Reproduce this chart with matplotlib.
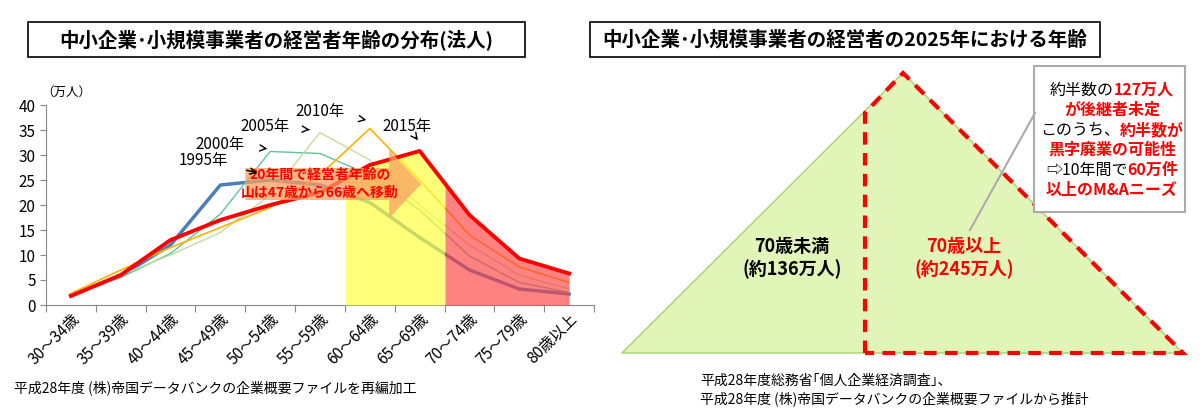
import matplotlib
matplotlib.use("Agg")
import matplotlib.pyplot as plt
from matplotlib.patches import Rectangle, Polygon, FancyArrow
import numpy as np

plt.rcParams["font.family"] = "Noto Sans CJK JP"

categories = ["30～34歳", "35～39歳", "40～44歳", "45～49歳", "50～54歳", "55～59歳",
              "60～64歳", "65～69歳", "70～74歳", "75～79歳", "80歳以上"]
v1995 = [2.0, 5.8, 12.0, 24.0, 25.0, 24.0, 20.5, 13.5, 7.0, 3.2, 2.2]
v2000 = [2.2, 5.5, 10.3, 18.2, 30.7, 30.3, 26.0, 19.0, 9.8, 4.5, 2.5]
v2005 = [2.3, 6.0, 10.0, 14.5, 22.0, 34.5, 29.0, 20.0, 12.0, 6.0, 3.2]
v2010 = [2.3, 7.0, 11.5, 15.5, 19.5, 26.0, 35.3, 25.0, 14.0, 7.6, 4.5]
v2015 = [1.8, 6.0, 13.0, 17.0, 20.0, 22.5, 28.0, 30.8, 18.0, 9.3, 6.3]
yticks = [0, 5, 10, 15, 20, 25, 30, 35, 40]

W, H = 1200, 415
fig = plt.figure(figsize=(12, 4.15), dpi=100)

ov = fig.add_axes([0, 0, 1, 1])
ov.set_xlim(0, W); ov.set_ylim(H, 0); ov.axis("off")

ax = fig.add_axes([46/W, (H-305)/H, 548/W, 200/H])
x = np.arange(len(categories))
ax.plot(x, v1995, color="#4a7ebb", lw=2.5, zorder=2)
ax.plot(x, v2000, color="#5fc49a", lw=1.0, zorder=2)
ax.plot(x, v2005, color="#c4dca0", lw=1.0, zorder=2)
ax.plot(x, v2010, color="#ffb000", lw=1.2, zorder=2)
xf = np.linspace(5.5, 10, 400)
yf = np.interp(xf, x, v2015)
m1 = xf <= 7.5
ax.fill_between(xf[m1], 0, yf[m1], color="#ffff40", alpha=0.7, zorder=3, lw=0)
m2 = xf >= 7.5
ax.fill_between(xf[m2], 0, yf[m2], color="#ff4040", alpha=0.65, zorder=3, lw=0)
ax.plot(x, v2015, color="#ff0000", lw=2.8, zorder=5)

ax.set_xlim(-0.5, 10.5)
ax.set_ylim(0, 40)
ax.set_yticks(yticks)
ax.set_xticks(np.arange(-0.5, 11, 1), minor=False)
ax.set_xticklabels([])
ax.set_xticks(x, minor=True)
ax.set_xticklabels(categories, minor=True, rotation=45, ha="right", rotation_mode="anchor", fontsize=11)
ax.tick_params(axis="x", which="minor", length=0, pad=4)
ax.tick_params(axis="x", which="major", length=5, color="#888")
ax.tick_params(axis="y", labelsize=11, length=4, color="#888")
for s in ["top", "right"]:
    ax.spines[s].set_visible(False)
ax.spines["left"].set_color("#888"); ax.spines["bottom"].set_color("#888")
ax.text(-0.6, 42.5, "（万人）", fontsize=9, ha="left", va="center", clip_on=False)

arr = FancyArrow(3.5, 24.2, 3.53, 0, width=6.4, head_width=13.6, head_length=0.64,
                 length_includes_head=True, color="#f8a060", alpha=0.75, lw=0, zorder=6)
ax.add_patch(arr)
ax.text(5.0, 24.2, "20年間で経営者年齢の\n山は47歳から66歳へ移動", color="#ff0000", fontsize=10,
        fontweight="bold", ha="center", va="center", zorder=7, linespacing=1.4)

for lab, tx, ty, px, py in [("1995年", 2.65, 29.0, 3.8, 26.3), ("2000年", 3.0, 32.2, 4.0, 31.2),
                            ("2005年", 3.9, 35.8, 4.85, 35.0), ("2010年", 5.0, 38.7, 5.93, 37.0),
                            ("2015年", 6.75, 35.8, 7.0, 32.5)]:
    ax.annotate(lab, xy=(px, py), xytext=(tx, ty), fontsize=11, ha="center", va="center",
                arrowprops=dict(arrowstyle="->", color="black", lw=1, shrinkA=12), zorder=8)

ov.add_patch(Rectangle((28, 22), 497, 35, fill=False, ec="black", lw=1.2))
ov.text(276, 40, "中小企業･小規模事業者の経営者年齢の分布(法人)", fontsize=14, fontweight="bold",
        ha="center", va="center")
ov.add_patch(Rectangle((590, 22), 510, 35, fill=False, ec="black", lw=1.2))
ov.text(845, 40, "中小企業･小規模事業者の経営者の2025年における年齢", fontsize=14, fontweight="bold",
        ha="center", va="center")

ov.add_patch(Polygon([(622, 353), (903, 73), (1183, 353)], closed=True, fc="#e2f5b8", ec="#a8d070", lw=1))
ov.add_patch(Polygon([(865, 353), (865, 113), (903, 73), (1183, 353)], closed=True, fill=False,
                     ec="#ff0000", lw=3, ls=(0, (3, 2))))
ov.text(792, 258, "70歳未満\n(約136万人)", fontsize=13, fontweight="bold", ha="center", va="center",
        linespacing=1.2)
ov.text(964, 258, "70歳以上\n(約245万人)", fontsize=13, fontweight="bold", ha="center", va="center",
        color="#ff0000", linespacing=1.2)
ov.plot([1035, 970], [113, 230], color="#aaaaaa", lw=1.5)
ov.add_patch(Rectangle((1034, 66), 151, 146, fc="white", ec="#aaaaaa", lw=1.5))
lines = [[("約半数の", "black"), ("127万人", "#ff0000")],
         [("が後継者未定", "#ff0000")],
         [("このうち、", "black"), ("約半数が", "#ff0000")],
         [("黒字廃業の可能性", "#ff0000")],
         [("⇨10年間で", "black"), ("60万件", "#ff0000")],
         [("以上のM&Aニーズ", "#ff0000")]]
fig.canvas.draw()
r = fig.canvas.get_renderer()
for i, ln in enumerate(lines):
    yy = 90 + i * 20
    texts = []
    for s, c in ln:
        t = ov.text(0, yy, s, fontsize=11.5, color=c, va="center", ha="left",
                    fontweight="bold" if c != "black" else "normal")
        texts.append(t)
    widths = [t.get_window_extent(r).width for t in texts]
    xs = 1112 - sum(widths) / 2
    for t, w in zip(texts, widths):
        t.set_x(xs); xs += w

ov.text(14, 388, "平成28年度 (株)帝国データバンクの企業概要ファイルを再編加工", fontsize=10, va="center")
ov.text(700, 381, "平成28年度総務省｢個人企業経済調査｣、", fontsize=10, va="center")
ov.text(700, 399, "平成28年度 (株)帝国データバンクの企業概要ファイルから推計", fontsize=10, va="center")

fig.savefig("out.png", dpi=100)
